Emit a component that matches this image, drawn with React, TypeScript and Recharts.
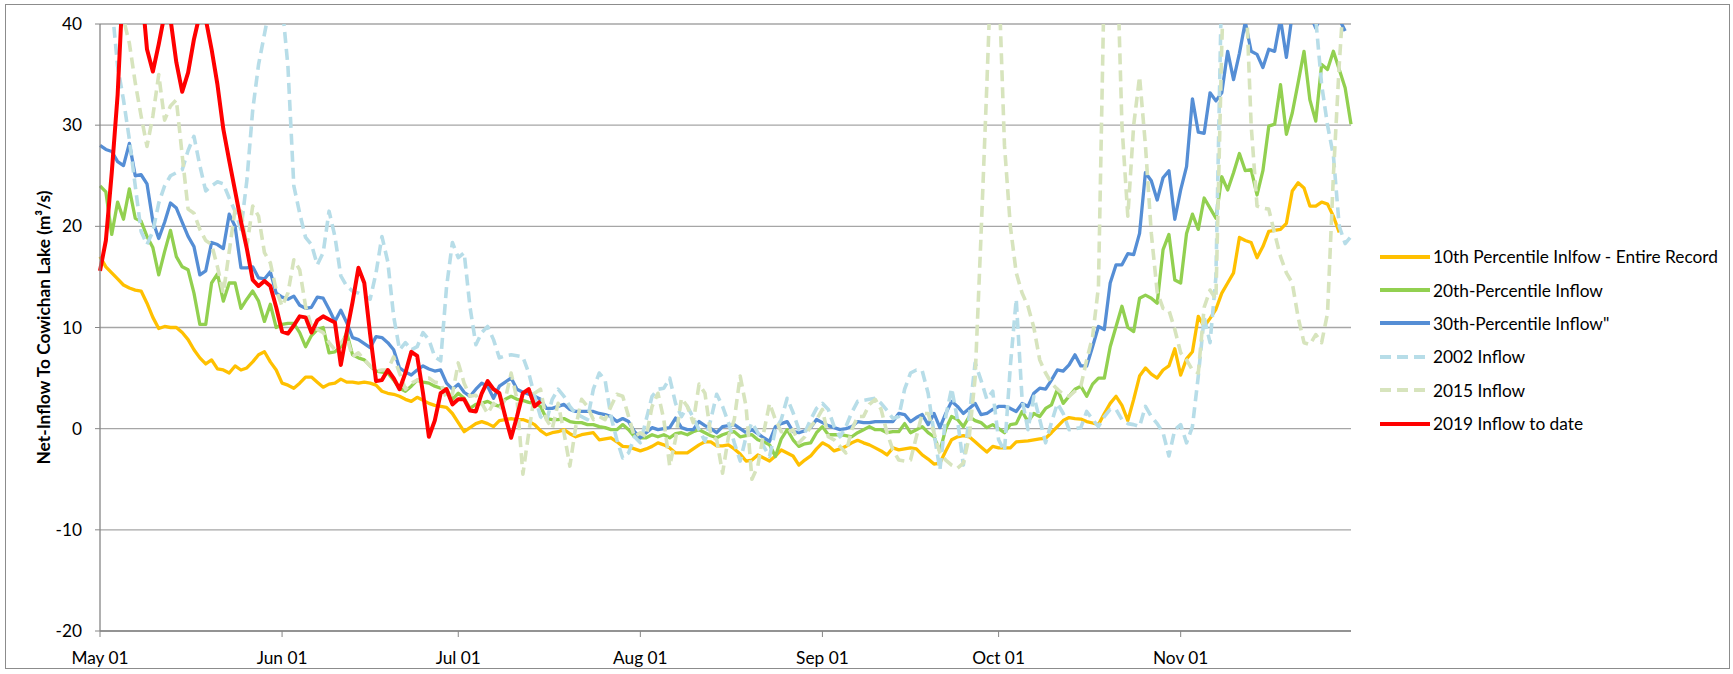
import React from 'react';
import { LineChart, Line, XAxis, YAxis, CartesianGrid } from 'recharts';

// ---- categories / axes ----
const DAY_COUNT = 214; // May 01 .. Nov 30, one point per day
const DAYS: number[] = Array.from({ length: DAY_COUNT }, (_, i) => i);
const MONTH_TICKS = [0, 31, 61, 92, 123, 153, 184];
const MONTH_LABELS = ['May 01', 'Jun 01', 'Jul 01', 'Aug 01', 'Sep 01', 'Oct 01', 'Nov 01'];
const Y_TICKS = [-20, -10, 0, 10, 20, 30, 40];
const Y_LABEL = 'Net-Inflow To Cowichan Lake (m\u00B3/s)';

// ---- series values (m3/s, daily) ----
const P10 = [
  17.0, 16.0, 15.4, 14.8, 14.2, 13.9, 13.7, 13.6, 12.4, 11.0,
  9.9, 10.1, 10.0, 10.0, 9.5, 8.8, 7.8, 7.0, 6.4, 6.8,
  5.9, 5.8, 5.5, 6.2, 5.8, 6.0, 6.6, 7.3, 7.6, 6.6,
  5.8, 4.5, 4.3, 4.0, 4.5, 5.1, 5.1, 4.6, 4.1, 4.4,
  4.5, 4.9, 4.6, 4.6, 4.5, 4.6, 4.5, 4.3, 3.7, 3.5,
  3.4, 3.2, 2.9, 2.7, 3.1, 2.8, 2.5, 2.3, 2.2, 2.1,
  1.5, 0.6, -0.3, 0.1, 0.5, 0.7, 0.5, 0.2, 0.8, 0.9,
  1.0, 0.9, 0.9, 0.7, 0.4, -0.2, -0.6, -0.4, -0.3, -0.1,
  -0.5, -0.8, -0.6, -0.5, -0.4, -1.1, -1.0, -0.9, -1.3, -1.75,
  -1.8, -2.0, -2.2, -2.0, -1.75, -1.4, -1.6, -1.9, -2.4, -2.4,
  -2.4, -2.0, -1.6, -1.3, -1.3, -1.7, -1.7, -1.6, -2.0, -2.5,
  -3.2, -3.1, -2.6, -2.9, -3.2, -2.7, -2.1, -2.4, -2.7, -3.6,
  -3.1, -2.7, -2.0, -1.4, -1.7, -2.2, -2.0, -1.75, -1.4, -1.15,
  -1.4, -1.6, -1.9, -2.2, -2.6, -1.9, -2.1, -2.0, -1.9, -2.0,
  -2.6, -3.0, -3.5, -3.4, -2.2, -1.1, -0.8, -0.7, -0.8, -1.3,
  -1.8, -2.3, -1.75, -1.9, -1.9, -1.9, -1.3, -1.25, -1.2, -1.1,
  -1.0, -0.95, -0.4, 0.2, 0.8, 1.1, 1.0, 0.95, 0.7, 0.56,
  0.4, 1.5, 2.5, 3.2, 2.3, 0.8, 2.9, 5.2, 6.0, 5.4,
  5.0, 5.8, 6.2, 7.9, 5.3, 6.9, 7.6, 11.1, 10.1, 10.9,
  11.8, 13.4, 14.4, 15.4, 18.9, 18.6, 18.4, 16.9, 18.0, 19.5,
  19.6, 19.7, 20.3, 23.5, 24.3, 23.8, 22.0, 22.0, 22.4, 22.2,
  21.0, 19.4,
];

const P20 = [
  24.0, 23.4, 19.2, 22.4, 20.7, 23.7, 20.8, 20.5, 19.0, 17.9,
  15.2, 17.5, 19.6, 17.0, 16.0, 15.7, 13.4, 10.3, 10.3, 14.4,
  15.3, 12.6, 14.4, 14.4, 11.9, 12.8, 13.6, 12.6, 10.6, 12.3,
  10.0, 10.3, 10.4, 10.4, 9.5, 8.1, 9.2, 9.8, 10.0, 7.5,
  7.6, 8.1, 9.5, 7.3, 7.0, 6.8, 6.2, 5.7, 5.6, 5.5,
  4.8, 4.0, 3.7, 4.2, 4.8, 4.6, 4.5, 4.2, 4.0, 3.9,
  2.9, 3.5, 3.0, 2.0, 2.4, 2.5, 2.7, 2.4, 2.2, 2.9,
  3.2, 2.9, 2.8, 2.6, 2.5, 2.2, 1.0, 0.9, 0.9, 1.0,
  0.7, 0.6, 0.6, 0.4, 0.4, 0.2, 0.1, -0.1, -0.1, 0.4,
  -0.1, -0.8, -0.9, -0.9, -0.6, -0.8, -0.6, -0.9, -0.5, -0.4,
  -0.6, -0.3, -0.1, -0.4, -0.7, -0.9, -0.6, -0.4, -0.3, -0.8,
  -0.7, -0.6, -1.1, -1.3, -1.6, -2.75, -1.0, -0.1, -1.1, -1.75,
  -1.5, -1.4, -0.4, 0.2, -0.6, -0.6, -0.6, -0.7, -0.8, -0.4,
  -0.1, 0.2, -0.1, -0.1, -0.4, -0.3, -0.3, 0.5, -0.4, -0.1,
  0.2, -0.4, -0.8, -2.25, 0.0, 1.2, 0.9, 0.2, 1.2, 0.8,
  0.6, 0.1, 0.4, 0.0, -0.4, 0.4, 0.5, 1.7, 0.7, 1.5,
  1.2, 2.0, 2.35, 3.9, 2.5, 3.2, 3.9, 4.2, 3.2, 4.4,
  5.0, 5.0, 8.1, 10.1, 12.1, 10.0, 9.6, 12.9, 13.2, 12.9,
  12.4, 17.7, 19.2, 14.7, 14.4, 19.3, 21.2, 19.7, 22.8, 21.8,
  20.8, 24.9, 23.6, 25.3, 27.2, 25.5, 25.6, 23.1, 25.5, 29.9,
  30.1, 34.0, 29.1, 31.2, 34.2, 37.3, 32.5, 30.4, 36.0, 35.5,
  37.3, 35.5, 33.7, 30.1,
];

const P30 = [
  28.0, 27.6, 27.4, 26.4, 26.0, 28.2, 25.0, 25.1, 24.2, 20.5,
  18.8, 20.4, 22.3, 21.8, 20.4, 19.0, 18.0, 15.2, 15.6, 18.4,
  18.2, 17.8, 21.2, 20.0, 15.9, 15.9, 16.0, 14.9, 14.8, 15.5,
  13.4, 13.0, 12.8, 13.1, 12.2, 11.9, 12.0, 13.0, 12.9, 11.8,
  10.6, 11.7, 10.5, 9.0, 8.8, 8.4, 8.0, 9.1, 9.0, 8.5,
  7.8, 6.0, 5.6, 5.3, 5.8, 6.2, 5.9, 5.7, 5.8, 4.5,
  3.9, 4.4, 3.6, 3.2, 3.9, 4.5, 4.2, 3.0, 4.2, 4.6,
  5.0, 3.9, 3.6, 3.4, 3.2, 2.9, 2.0, 2.0, 2.2, 2.4,
  1.9, 1.7, 1.7, 1.7, 1.7, 1.5, 1.4, 1.2, 0.7, 1.0,
  0.7, -0.3, -0.9, -0.4, 0.1, -0.1, 0.0, 0.1, 1.05, 0.1,
  -0.1, -0.1, 0.7, 0.3, 0.0, -0.4, 0.2, 0.3, 0.4, 0.0,
  -0.4, -0.1, -0.5, -0.9, -1.25, 0.2, 0.5, 0.7, -0.3, -0.4,
  -0.2, 0.1, 0.9, 0.6, 0.3, 0.1, -0.1, 0.0, 0.2, 0.7,
  0.6, 0.6, 0.7, 0.7, 0.7, 0.7, 1.5, 1.4, 0.7, 1.1,
  1.4, 0.4, 1.5, 0.1, 1.5, 2.7, 2.2, 1.5, 2.0, 2.5,
  1.4, 1.5, 1.9, 2.2, 2.2, 2.0, 1.7, 2.5, 2.2, 3.5,
  4.0, 3.9, 4.8, 5.8, 5.7, 6.3, 7.3, 6.2, 6.2, 8.1,
  10.1, 9.8, 14.4, 16.2, 16.2, 17.3, 17.2, 19.3, 25.3, 24.5,
  22.6, 24.8, 25.5, 20.7, 23.6, 25.9, 32.6, 29.3, 29.2, 33.2,
  32.4, 33.2, 37.3, 34.5, 37.1, 40.2, 37.3, 37.0, 35.7, 37.5,
  37.3, 40.5, 36.7, 41.0, 44.0, 43.0, 41.0, 39.6, 41.0, 43.0,
  42.0, 40.5, 39.3,
];

const Y2002 = [
  48, 45, 42, 35.8, 32.5, 28.6, 24.0, 19.5, 18.2, 19.5,
  22.3, 24.0, 25.0, 25.3, 25.6, 27.5, 28.9, 26.0, 23.5, 24.0,
  24.4, 24.2, 22.8, 21.5, 19.7, 24.5, 31.5, 36.0, 39.0, 42,
  43, 42, 35.8, 24.0, 21.3, 18.9, 18.2, 16.2, 17.4, 21.5,
  19.0, 15.1, 14.1, 13.6, 13.4, 13.1, 12.8, 15.4, 19.0, 16.5,
  11.1, 7.8, 8.5, 7.8, 8.1, 9.5, 8.8, 7.1, 6.7, 14.0,
  18.4, 16.9, 17.4, 12.0, 8.3, 9.5, 10.1, 8.8, 7.0, 7.2,
  7.3, 7.2, 7.1, 5.5, 3.2, 1.2, 0.7, 2.9, 3.9, 3.2,
  2.2, 1.5, 1.2, 0.9, 3.9, 5.5, 4.8, 1.2, -1.1, -2.9,
  -2.4, -0.8, -1.4, 0.9, 3.2, 3.9, 4.0, 5.0, 2.5, 1.2,
  2.2, 1.1, -0.1, -1.25, 0.9, 3.4, 2.2, 0.6, -1.4, -3.2,
  -0.8, 0.6, -0.4, -1.75, -2.75, -0.1, 0.9, 3.0, 1.6, -0.1,
  -0.4, 0.9, 2.0, 2.5, 1.9, 0.2, -0.8, 0.2, 1.6, 2.7,
  2.8, 2.9, 3.0, 2.5, 1.8, 1.0, 1.2, 3.9, 5.5, 5.8,
  5.7, 3.5, -0.4, -4.1, 1.2, 4.0, 0.9, -3.6, 1.2, 6.5,
  4.8, 2.9, 3.7, -1.1, -2.25, 6.2, 12.8, 2.9, -0.1, 3.2,
  0.9, -1.4, 0.6, 2.5, 1.5, -0.1, 0.0, 0.1, 1.7, 0.9,
  0.2, 1.2, 1.9, 1.9, 0.9, 0.5, 0.4, 0.2, 2.2, 1.2,
  0.5, -0.4, -2.7, -0.1, 0.4, -1.4, 0.2, 5.2, 11.0, 8.5,
  15.0, 45, 55, 60, 62, 60, 58, 60, 62, 60,
  58, 55, 55, 52, 50, 48, 45, 40.5, 34.0, 30.0,
  27.0, 20.0, 18.3, 19.0,
];

const Y2015 = [
  48, 46, 44, 42, 40.5, 38.1, 34.2, 30.9, 27.9, 30.9,
  35.0, 30.5, 31.9, 32.5, 27.0, 21.7, 21.3, 19.7, 18.6, 18.2,
  16.0, 13.4, 17.5, 21.7, 21.5, 18.0, 22.0, 21.0, 17.4, 16.4,
  13.7, 12.1, 13.4, 16.7, 15.7, 12.1, 10.1, 9.8, 9.5, 8.5,
  7.8, 8.5, 9.1, 7.1, 7.5, 6.8, 6.2, 5.7, 5.8, 5.8,
  7.1, 5.5, 3.9, 4.5, 4.8, 4.9, 5.0, 4.6, 4.5, 3.0,
  3.4, 6.5, 4.5, 3.2, 3.3, 2.5, 1.5, 2.5, 1.9, 2.9,
  5.5, 2.9, -4.5, -0.4, 3.5, 3.9, 0.9, 0.0, 2.5, -0.4,
  -3.7, 0.2, 2.9, 2.2, 0.9, 1.2, 0.9, 2.2, 3.4, 3.2,
  1.2, -0.8, -0.4, -0.8, 2.2, 3.5, 0.9, -3.7, -1.0, 3.0,
  2.2, 0.6, 4.4, 3.5, -0.6, -1.1, -4.4, -0.8, 0.9, 5.2,
  2.2, -5.0, -3.7, -0.4, 2.5, 0.9, -0.3, -0.4, -0.1, -1.4,
  -0.8, 0.2, 0.9, 1.9, -0.8, -1.1, -1.75, -2.4, -0.1, 1.2,
  1.2, 2.4, 2.9, 1.9, -0.4, -2.1, -3.1, -3.2, -3.1, -0.8,
  1.5, 1.5, -0.4, -2.4, -3.1, -3.6, -3.9, -3.4, -0.8, 5.0,
  19.0, 34.0, 50, 45, 28, 20.0, 15.4, 13.4, 12.1, 10.0,
  6.8, 5.5, 4.5, 3.9, 3.4, 3.2, 3.7, 4.2, 6.8, 9.1,
  14.0, 45, 60, 50, 30, 21.0, 30.0, 34.8, 28.0, 19.3,
  13.5, 11.9, 11.7, 9.8, 7.5, 6.8, 5.8, 5.5, 12.0, 13.7,
  12.8, 38, 55, 60, 55, 45, 30, 22.0, 21.8, 21.7,
  19.3, 17.0, 15.4, 14.4, 11.0, 8.5, 8.3, 9.3, 8.5, 11.4,
  25, 36, 45, 50,
];

const Y2019 = [
  15.6, 18.6, 25.3, 33, 45, 52, 50, 44, 37.5, 35.3,
  38, 41, 40.5, 36.2, 33.3, 35.2, 38.5, 41, 40.5, 37.5,
  34, 29.6, 26.5, 23.5, 20.5, 17.8, 14.7, 14.1, 14.6, 14.1,
  12.0, 9.6, 9.4, 10.2, 11.1, 11.0, 9.5, 10.7, 11.1, 10.8,
  10.5, 6.3, 9.5, 12.5, 15.9, 14.4, 9.3, 4.7, 4.8, 5.8,
  5.0, 3.9, 5.5, 7.6, 7.2, 3.5, -0.8, 0.8, 3.5, 3.9,
  2.4, 2.9, 2.9, 1.8, 1.7, 3.5, 4.7, 3.9, 3.5, 1.2,
  -0.9, 1.2, 3.5, 3.9, 2.2, 2.7,
];

const SERIES = [
  { key: 'p10', name: '10th Percentile Inlfow - Entire Record', color: '#FFC000', dashed: false, width: 3.3, values: P10 },
  { key: 'p20', name: '20th-Percentile Inflow', color: '#92D050', dashed: false, width: 3.3, values: P20 },
  { key: 'p30', name: '30th-Percentile Inflow"', color: '#558ED5', dashed: false, width: 3.3, values: P30 },
  { key: 'y2002', name: '2002 Inflow', color: '#B7DDE8', dashed: true, width: 3.6, values: Y2002 },
  { key: 'y2015', name: '2015 Inflow', color: '#D7E4BD', dashed: true, width: 3.6, values: Y2015 },
  { key: 'y2019', name: '2019 Inflow to date', color: '#FF0000', dashed: false, width: 4, values: Y2019 },
];

const DATA = DAYS.map((d, i) => {
  const row: Record<string, number | null> = { day: d };
  SERIES.forEach((s) => {
    row[s.key] = i < s.values.length ? s.values[i] : null;
  });
  return row;
});

const FONT = 'Lato, "Open Sans", sans-serif';
const FONT_SIZE = 17.3;

const YLabel = (props: any) => {
  const vb = props.viewBox || { x: 0, y: 24, width: 100, height: 607 };
  const cx = vb.x + 43;
  const cy = vb.y + vb.height / 2;
  return (
    <text
      x={cx}
      y={cy}
      transform={`rotate(-90 ${cx} ${cy})`}
      textAnchor="middle"
      dominantBaseline="central"
      style={{ fontFamily: FONT, fontSize: FONT_SIZE, fontWeight: 700, fill: '#000' }}
    >
      {Y_LABEL}
    </text>
  );
};

const LegendBox = () => (
  <div style={{ position: 'absolute', left: 1379, top: 240, fontFamily: FONT, fontSize: FONT_SIZE, color: '#000' }}>
    {SERIES.map((s) => (
      <div key={s.key} style={{ height: 33.4, display: 'flex', alignItems: 'center', whiteSpace: 'nowrap' }}>
        <svg width={52} height={8} style={{ display: 'block' }}>
          <line
            x1={1}
            y1={4}
            x2={51}
            y2={4}
            stroke={s.color}
            strokeWidth={4}
            strokeDasharray={s.dashed ? '11 6' : undefined}
          />
        </svg>
        <span style={{ marginLeft: 2 }}>{s.name}</span>
      </div>
    ))}
  </div>
);

export default function App() {
  return (
    <div style={{ position: 'absolute', left: 0, top: 0, width: 1733, height: 674, background: '#fff', fontFamily: FONT }}>
      <div
        style={{
          position: 'absolute',
          left: 5,
          top: 4,
          width: 1725,
          height: 665,
          border: '1px solid #8c8c8c',
          boxSizing: 'border-box',
        }}
      />
      <LineChart
        width={1733}
        height={674}
        data={DATA}
        margin={{ top: 24, right: 382, bottom: 13, left: 0 }}
        style={{ position: 'absolute', left: 0, top: 0 }}
      >
        <CartesianGrid vertical={false} stroke="#a6a6a6" strokeWidth={1.3} />
        <XAxis
          dataKey="day"
          type="number"
          domain={[0, 213]}
          ticks={MONTH_TICKS}
          tickFormatter={(v: number) => MONTH_LABELS[MONTH_TICKS.indexOf(v)]}
          axisLine={{ stroke: '#868686', strokeWidth: 1.3 }}
          tickLine={{ stroke: '#868686' }}
          tickSize={6}
          tickMargin={15}
          height={30}
          interval={0}
          tick={{ fill: '#000', fontSize: FONT_SIZE, fontFamily: FONT }}
        />
        <YAxis
          type="number"
          domain={[-20, 40]}
          ticks={Y_TICKS}
          allowDataOverflow
          width={100}
          axisLine={{ stroke: '#868686', strokeWidth: 1.3 }}
          tickLine={{ stroke: '#868686' }}
          tickSize={5}
          tickMargin={13}
          interval={0}
          tick={{ fill: '#000', fontSize: FONT_SIZE, fontFamily: FONT }}
          label={<YLabel />}
        />
        {SERIES.map((s) => (
          <Line
            key={s.key}
            dataKey={s.key}
            name={s.name}
            type="linear"
            stroke={s.color}
            strokeWidth={s.width}
            strokeDasharray={s.dashed ? '11 6' : undefined}
            strokeLinejoin="round"
            dot={false}
            activeDot={false}
            connectNulls={false}
            isAnimationActive={false}
          />
        ))}
      </LineChart>
      <LegendBox />
    </div>
  );
}
